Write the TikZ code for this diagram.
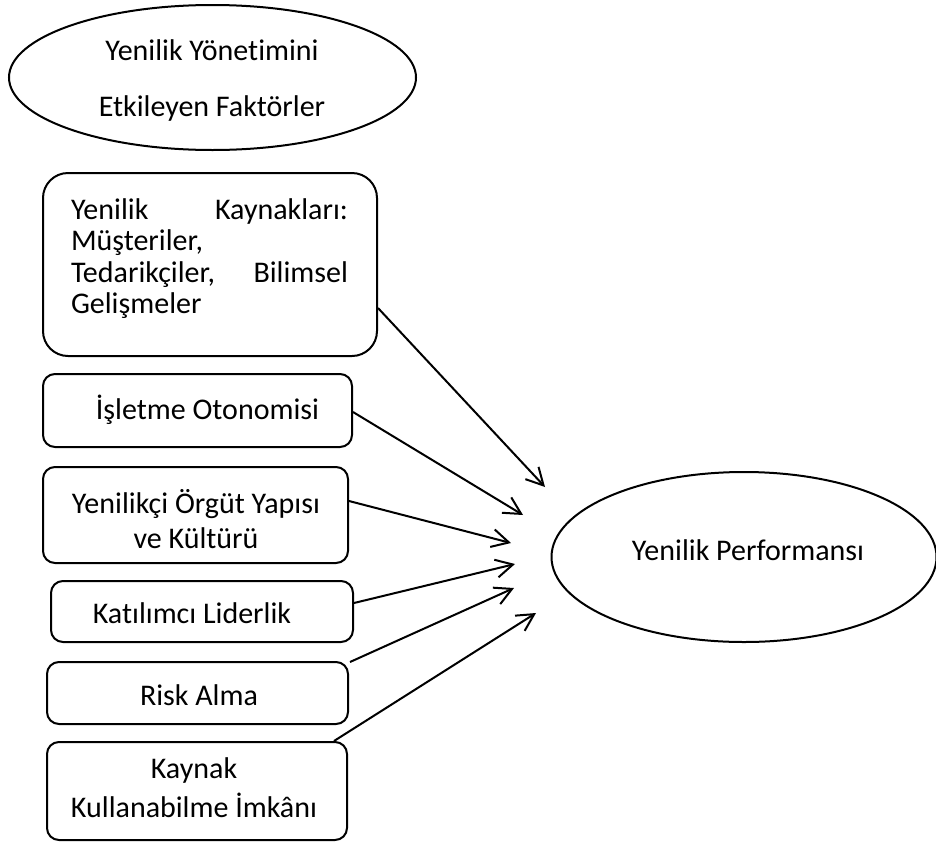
\documentclass[tikz,border=0pt]{standalone}
\usepackage{fontspec}
\setmainfont{Carlito}[Ligatures=NoCommon]
\usetikzlibrary{shapes.geometric,arrows.meta}
\begin{document}
\begin{tikzpicture}[x=0.5pt,y=-0.5pt,line width=1pt,
  boxshape/.style={draw,rounded corners=6pt,inner sep=0pt},
  ovalshape/.style={draw,ellipse,inner sep=0pt},
  lbl/.style={inner sep=0pt,font=\fontsize{15}{17.5}\selectfont},
  conn/.style={-{Straight Barb[length=8.5pt,width=9pt]},line width=1pt}]
\useasboundingbox (0,0) rectangle (936,841);
% shapes
\node[ovalshape,minimum width=203.5pt,minimum height=72.5pt] (top) at (212.5,77.5) {};
\node[ovalshape,minimum width=192.5pt,minimum height=85pt] (perf) at (744,557) {};
\node[boxshape,rounded corners=12.5pt,minimum width=167pt,minimum height=91.5pt] (b1) at (210,264.5) {};
\node[boxshape,minimum width=154.5pt,minimum height=36.5pt] (b2) at (197.5,410.5) {};
\node[boxshape,minimum width=152.5pt,minimum height=48pt] (b3) at (195.5,515) {};
\node[boxshape,minimum width=151pt,minimum height=30.5pt] (b4) at (202,611.5) {};
\node[boxshape,minimum width=150.5pt,minimum height=31pt] (b5) at (197.5,693) {};
\node[boxshape,minimum width=150pt,minimum height=49pt] (b6) at (197,791) {};
% texts
\node[lbl,align=center,font=\fontsize{15}{28}\selectfont] (ttop) at (212,80) {Yenilik Yönetimini\\Etkileyen Faktörler};
\node[lbl] (tperf) at (748,550) {Yenilik Performansı};
\node[lbl,align=left,font=\fontsize{15}{15.75}\selectfont] (t1) at (209.5,258.5)
  {\makebox[138.5pt][s]{Yenilik\hfill Kaynakları:}\\Müşteriler,\\\makebox[138.5pt][s]{Tedarikçiler,\hfill Bilimsel}\\Gelişmeler};
\node[lbl] (t2) at (207.5,410) {İşletme Otonomisi};
\node[lbl,align=center] (t3) at (196,519) {Yenilikçi Örgüt Yapısı\\ve Kültürü};
\node[lbl] (t4) at (192,613) {Katılımcı Liderlik};
\node[lbl] (t5) at (199,695) {Risk Alma};
\node[lbl,align=center,font=\fontsize{15}{19.5}\selectfont] (t6) at (194,788) {Kaynak\\Kullanabilme İmkânı};
% arrow ends
\coordinate (e1) at (545,487);
\coordinate (e2) at (523,515);
\coordinate (e3) at (511,543);
\coordinate (e4) at (515,564);
\coordinate (e5) at (514,588);
\coordinate (e6) at (536,613);
% connectors
\draw[conn] ([yshift=-21.75pt]b1.east) -- (e1);
\draw[conn] ([yshift=-0.75pt]b2.east) -- (e2);
\draw[conn] ([yshift=7pt]b3.east) -- (e3);
\draw[conn] ([yshift=4.25pt]b4.east) -- (e4);
\draw[conn] ([xshift=0.5pt,yshift=-0.5pt]b5.north east) -- (e5);
\draw[conn] ([xshift=-7pt]b6.north east) -- (e6);
\end{tikzpicture}
\end{document}
